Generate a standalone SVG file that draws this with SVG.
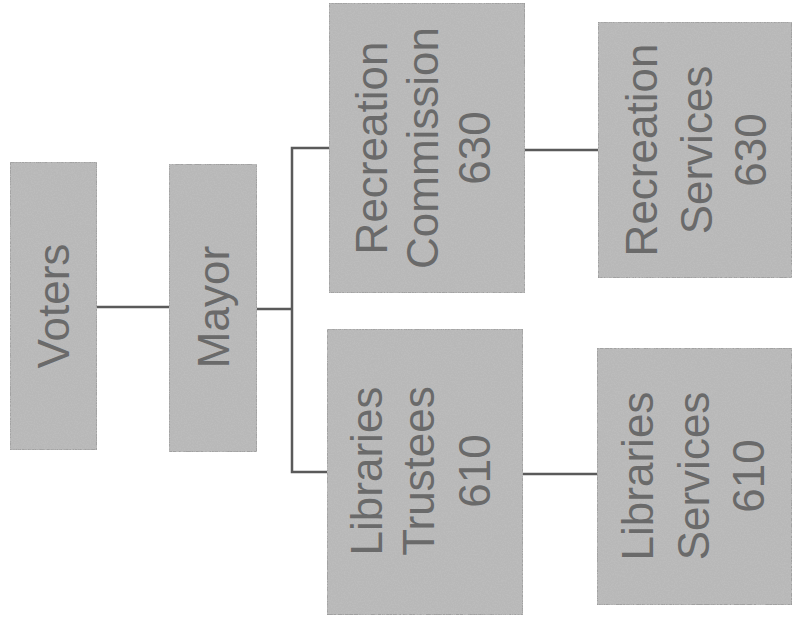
<svg xmlns="http://www.w3.org/2000/svg" width="793" height="622" viewBox="0 0 793 622">
  <defs>
    <filter id="grain" x="0" y="0" width="100%" height="100%">
      <feTurbulence type="fractalNoise" baseFrequency="0.7" numOctaves="3" seed="7" result="n"/>
      <feColorMatrix in="n" type="matrix" values="0 0 0 0 0.5  0 0 0 0 0.5  0 0 0 0 0.5  4.5 0 0 0 -1.9" result="g"/>
      <feComposite in="g" in2="SourceGraphic" operator="in" result="gc"/>
      <feMerge>
        <feMergeNode in="SourceGraphic"/>
        <feMergeNode in="gc"/>
      </feMerge>
    </filter>
    <style>
      .box { fill: #b8b8b8; stroke: #9a9a9a; stroke-width: 1.5; filter: url(#grain); }
      .lbl { font-family: "Liberation Sans", Arial, sans-serif; font-size: 44px; fill: #6a6a6a; text-anchor: middle; }
      .conn { stroke: #5a5a5a; stroke-width: 2.5; fill: none; }
    </style>
  </defs>
  <rect width="793" height="622" fill="#ffffff"/>

  <g id="connectors">
    <line class="conn" x1="97" y1="307" x2="169" y2="307"/>
    <line class="conn" x1="257" y1="309" x2="292" y2="309"/>
    <polyline class="conn" points="329,148 292,148 292,472 327,472"/>
    <line class="conn" x1="525" y1="150" x2="598" y2="150"/>
    <line class="conn" x1="523" y1="474" x2="597" y2="474"/>
  </g>

  <g id="voters">
    <rect class="box" x="10" y="162" width="87" height="288"/>
    <text class="lbl" transform="translate(69,306) rotate(-90)">Voters</text>
  </g>

  <g id="mayor">
    <rect class="box" x="169" y="164" width="88" height="288"/>
    <text class="lbl" transform="translate(229,307) rotate(-90)">Mayor</text>
  </g>

  <g id="recreation-commission">
    <rect class="box" x="329" y="3" width="196" height="290"/>
    <text class="lbl" transform="translate(387,148) rotate(-90)">Recreation</text>
    <text class="lbl" transform="translate(438,148) rotate(-90)">Commission</text>
    <text class="lbl" transform="translate(490,148) rotate(-90)">630</text>
  </g>

  <g id="libraries-trustees">
    <rect class="box" x="327" y="329" width="196" height="286"/>
    <text class="lbl" transform="translate(382,471) rotate(-90)">Libraries</text>
    <text class="lbl" transform="translate(434,471) rotate(-90)">Trustees</text>
    <text class="lbl" transform="translate(490,471) rotate(-90)">610</text>
  </g>

  <g id="recreation-services">
    <rect class="box" x="598" y="22" width="194" height="256"/>
    <text class="lbl" transform="translate(657,150) rotate(-90)">Recreation</text>
    <text class="lbl" transform="translate(712,150) rotate(-90)">Services</text>
    <text class="lbl" transform="translate(766,150) rotate(-90)">630</text>
  </g>

  <g id="libraries-services">
    <rect class="box" x="597" y="348" width="195" height="257"/>
    <text class="lbl" transform="translate(653,476) rotate(-90)">Libraries</text>
    <text class="lbl" transform="translate(709,476) rotate(-90)">Services</text>
    <text class="lbl" transform="translate(764,476) rotate(-90)">610</text>
  </g>
</svg>
